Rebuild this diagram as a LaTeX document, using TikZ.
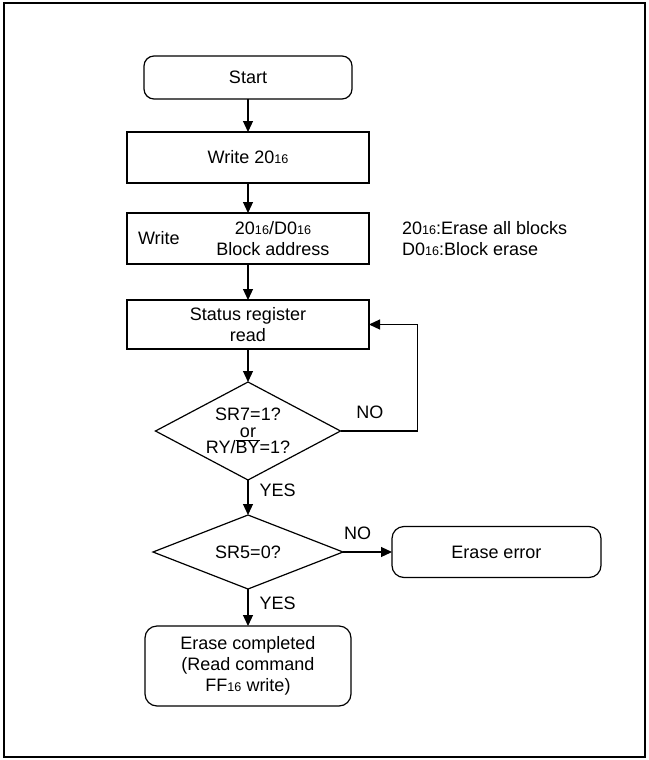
\documentclass[tikz,border=0pt]{standalone}
\usepackage{fontspec}
\setmainfont{Liberation Sans}
\usepackage{tikz}
\usetikzlibrary{positioning, arrows.meta, shapes.geometric}
\newcommand{\hx}{{\fontsize{6.3}{7}\selectfont 16}}
\newcommand{\ovl}[1]{\setbox0\hbox{#1}\rlap{\rule[\dimexpr\ht0+0.4pt\relax]{\wd0}{0.45pt}}\box0}
\tikzset{
  termbox/.style={
    draw, rounded corners=5pt, minimum width=104pt, minimum height=21.5pt,
    align=center, line width=0.6pt, outer sep=0pt
  },
  procbox/.style={
    draw, minimum width=121pt, minimum height=25.5pt,
    align=center, line width=0.6pt, outer sep=0pt
  },
  decision/.style={
    draw, diamond, inner sep=0pt, align=center, line width=0.6pt, outer sep=0pt
  },
  flowarrow/.style={-{Triangle[length=5.5pt, width=5pt]}, line width=0.6pt},
  flowlabel/.style={inner sep=1pt}
}

\begin{document}
\begin{tikzpicture}[x=0.5pt, y=-0.5pt, font=\fontsize{9}{10.35}\selectfont]
  \useasboundingbox (0,0) rectangle (648,760);
  \draw[line width=1.2pt] (4,3) rectangle (645,757);

  \node[termbox] (start) at (248,77.5) {Start};
  \node[procbox, below=16.5pt of start] (write) {Write 20\hx};
  \node[procbox, below=15pt of write] (blkwrite) {};
  \node[anchor=west] (blkcmd) at ([xshift=2pt]blkwrite.west) {Write};
  \node[align=center] (blkaddr) at ([xshift=12.5pt]blkwrite.center) {20\hx/D0\hx\\Block address};
  \node[anchor=west, align=left, right=13pt of blkwrite] (note) {20\hx:Erase all blocks\\D0\hx:Block erase};
  \node[procbox, minimum height=24.5pt, below=18pt of blkwrite] (status) {Status register\\read};
  \node[decision, minimum width=92.5pt, minimum height=49pt, below=16.5pt of status,
        label={[align=center, font=\fontsize{9}{8.3}\selectfont]center:SR7=1?\\or\\RY/\ovl{BY}=1?}] (ready) {};
  \node[decision, aspect=2.5, minimum width=95pt, minimum height=37pt, below=17.5pt of ready] (check) {SR5=0?};
  \node[termbox, rounded corners=6pt, minimum width=104.5pt, minimum height=25.5pt,
        right=24.5pt of check] (error) {Erase error};
  \node[termbox, rounded corners=6pt, minimum width=103pt, minimum height=40pt,
        below=18.5pt of check] (done) {Erase completed\\(Read command\\FF\hx{} write)};

  \draw[flowarrow] (start) -- (write);
  \draw[flowarrow] (write) -- (blkwrite);
  \draw[flowarrow] (blkwrite) -- (status);
  \draw[flowarrow] (status) -- (ready);
  \draw[flowarrow] (ready.east) -- node[flowlabel, above=5pt, pos=0.38] {NO} ++(38.5pt,0) |- (status.east);
  \draw[flowarrow] (ready) -- node[flowlabel, right=4.5pt, pos=0.3] {YES} (check);
  \draw[flowarrow] (check) -- node[flowlabel, above=5pt, pos=0.3] {NO} (error);
  \draw[flowarrow] (check) -- node[flowlabel, right=4.5pt, pos=0.38] {YES} (done);
\end{tikzpicture}
\end{document}
